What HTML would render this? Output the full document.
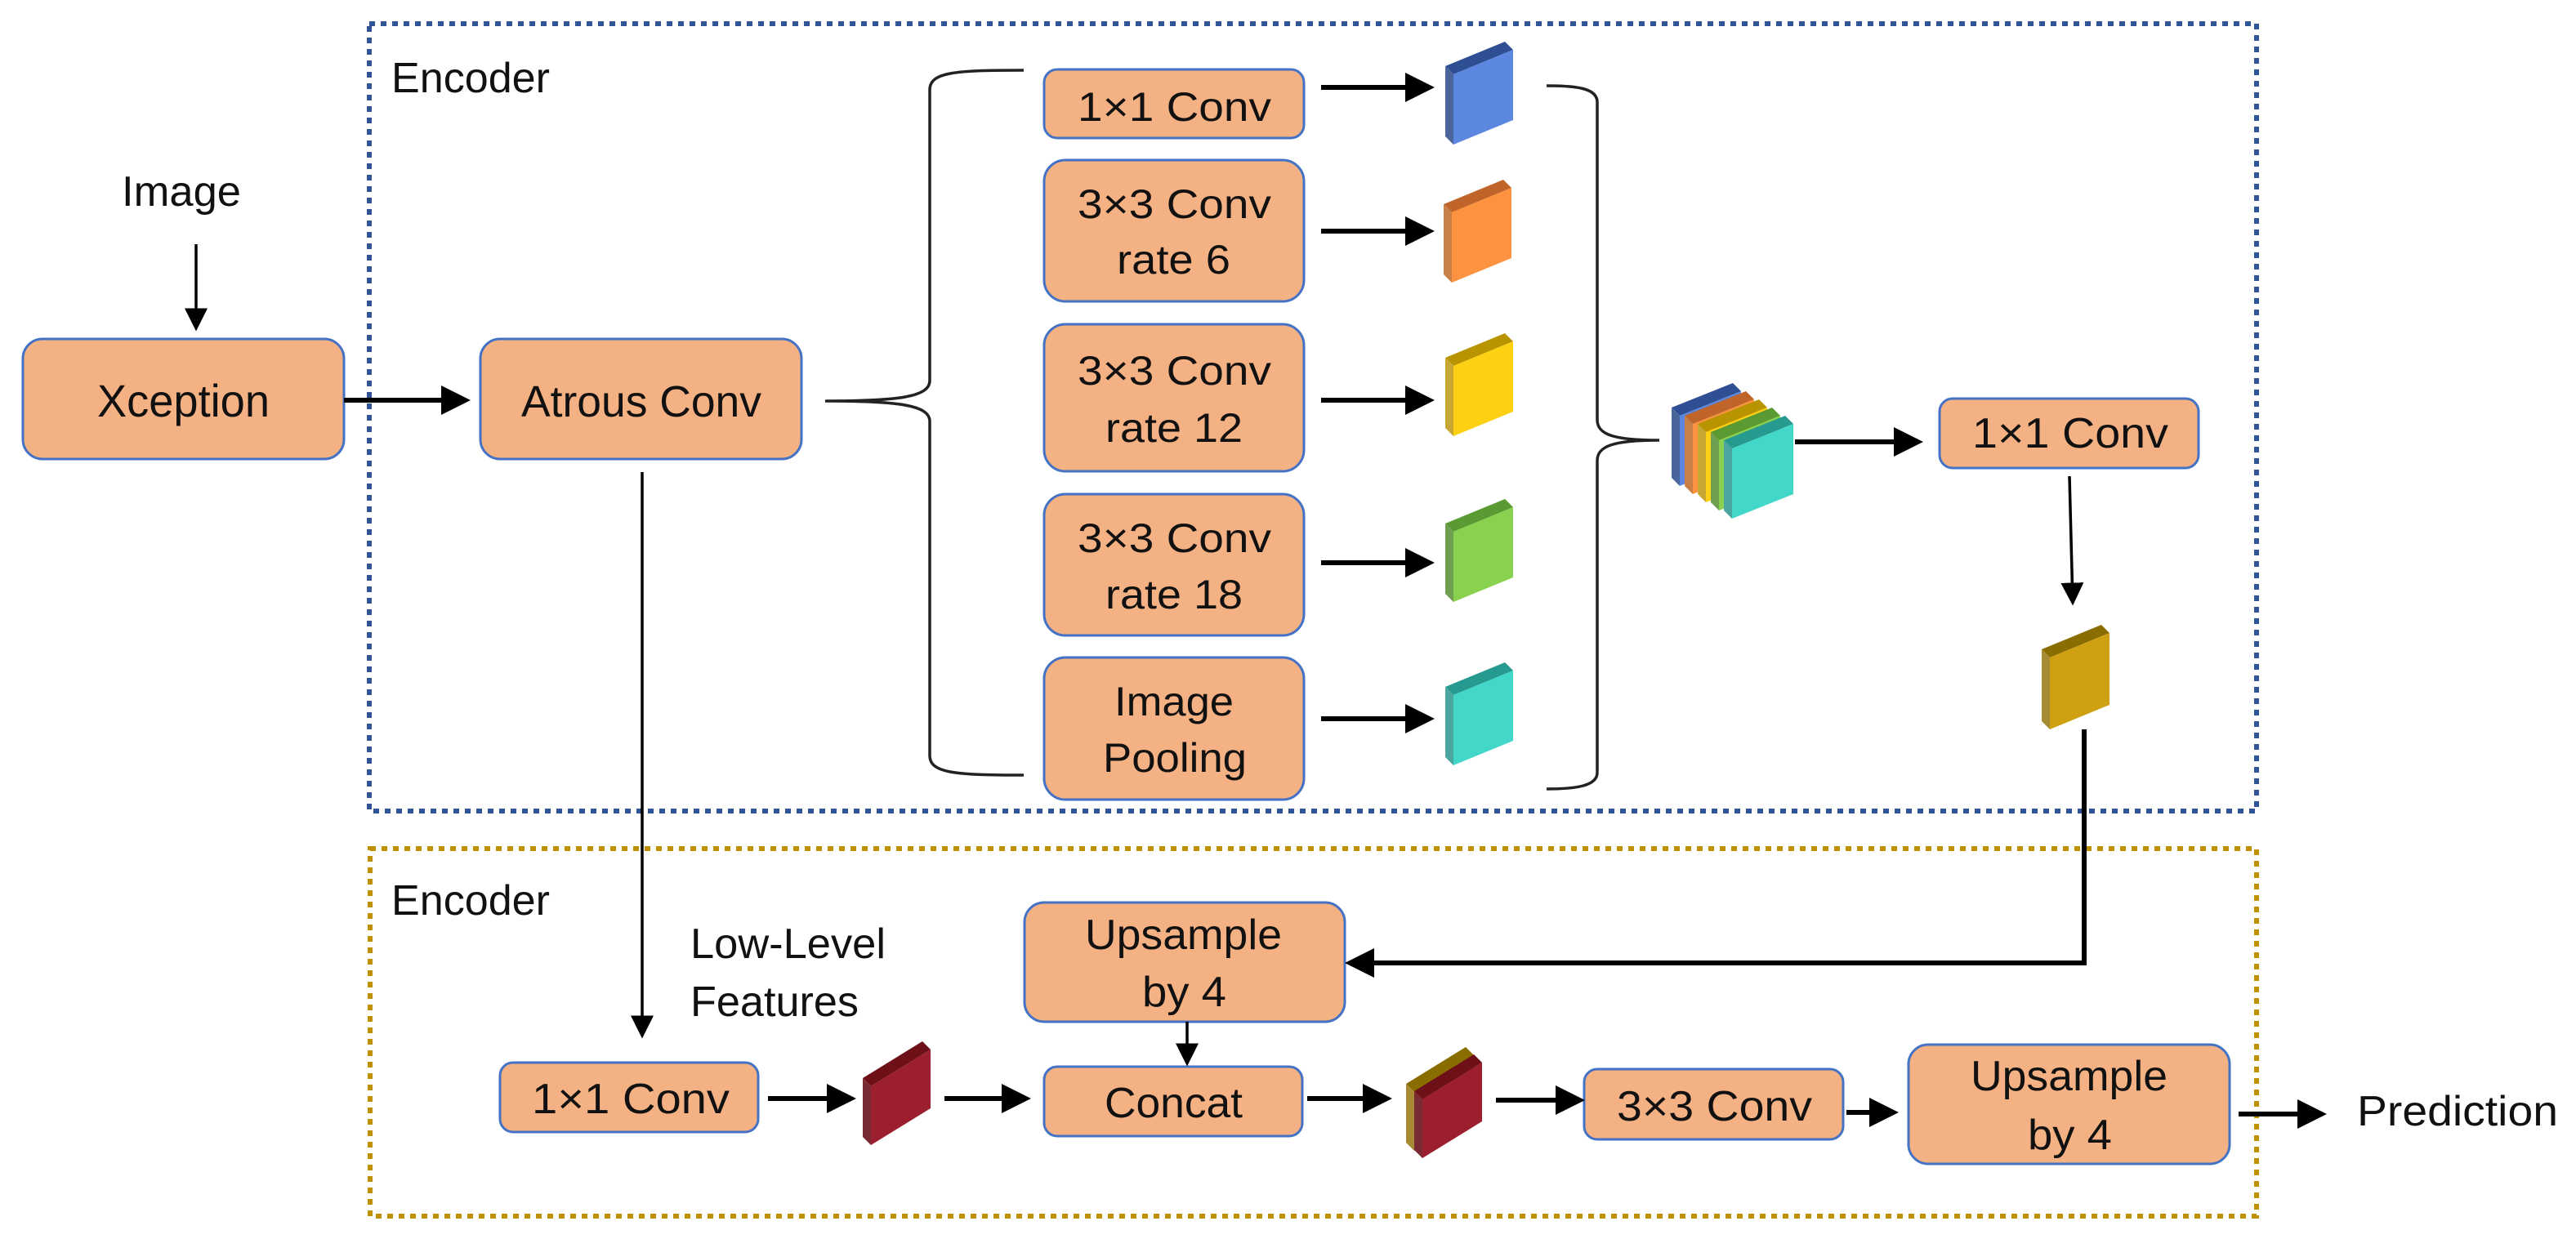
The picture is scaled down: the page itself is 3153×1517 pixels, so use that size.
<!DOCTYPE html>
<html><head><meta charset="utf-8"><style>
html,body{margin:0;padding:0;background:#fff;}
svg{display:block;}
text{font-family:"Liberation Sans",sans-serif;fill:#111;}
</style></head><body>
<svg width="3153" height="1517" viewBox="0 0 3153 1517" xmlns="http://www.w3.org/2000/svg">
<defs>
<marker id="ah" markerWidth="6" markerHeight="6" refX="5" refY="3" orient="auto" markerUnits="strokeWidth"><path d="M0,0 L6,3 L0,6 z" fill="#000"/></marker>
<marker id="ahs" markerWidth="8" markerHeight="8" refX="7" refY="4" orient="auto" markerUnits="strokeWidth"><path d="M0,0 L8,4 L0,8 z" fill="#000"/></marker>
</defs>
<rect width="3153" height="1517" fill="#fff"/>
<!-- dotted containers -->
<rect x="452" y="29" width="2310" height="964" fill="none" stroke="#2f5597" stroke-width="6" stroke-dasharray="7 7"/>
<rect x="453" y="1039" width="2309" height="450" fill="none" stroke="#bf9000" stroke-width="6" stroke-dasharray="7 7"/>
<text x="479" y="113" font-size="52" textLength="194" lengthAdjust="spacingAndGlyphs">Encoder</text>
<text x="479" y="1120" font-size="52" textLength="194" lengthAdjust="spacingAndGlyphs">Encoder</text>
<!-- Image -->
<text x="149" y="252" font-size="52" textLength="146" lengthAdjust="spacingAndGlyphs">Image</text>
<line x1="240" y1="299" x2="240" y2="402" stroke="#000" stroke-width="3.5" marker-end="url(#ahs)"/>
<!-- boxes -->
<g fill="#f4b183" stroke="#4472c4" stroke-width="3">
<rect x="28" y="415" width="393" height="147" rx="24"/>
<rect x="588" y="415" width="393" height="147" rx="24"/>
<rect x="1278" y="85" width="318" height="84" rx="16"/>
<rect x="1278" y="196" width="318" height="173" rx="26"/>
<rect x="1278" y="397" width="318" height="180" rx="26"/>
<rect x="1278" y="605" width="318" height="173" rx="26"/>
<rect x="1278" y="805" width="318" height="174" rx="26"/>
<rect x="2374" y="488" width="317" height="85" rx="16"/>
<rect x="1254" y="1105" width="392" height="146" rx="24"/>
<rect x="612" y="1301" width="316" height="85" rx="16"/>
<rect x="1278" y="1306" width="316" height="85" rx="16"/>
<rect x="1939" y="1309" width="317" height="86" rx="16"/>
<rect x="2336" y="1279" width="393" height="146" rx="24"/>
</g>
<text x="119" y="510" font-size="56" textLength="211" lengthAdjust="spacingAndGlyphs">Xception</text>
<text x="638" y="510" font-size="54" textLength="294" lengthAdjust="spacingAndGlyphs">Atrous Conv</text>
<g font-size="50">
<text x="1319" y="148" textLength="237" lengthAdjust="spacingAndGlyphs">1×1 Conv</text>
<text x="1319" y="267" textLength="237" lengthAdjust="spacingAndGlyphs">3×3 Conv</text>
<text x="1367" y="335" textLength="139" lengthAdjust="spacingAndGlyphs">rate 6</text>
<text x="1319" y="471" textLength="237" lengthAdjust="spacingAndGlyphs">3×3 Conv</text>
<text x="1353" y="541" textLength="168" lengthAdjust="spacingAndGlyphs">rate 12</text>
<text x="1319" y="676" textLength="237" lengthAdjust="spacingAndGlyphs">3×3 Conv</text>
<text x="1353" y="745" textLength="168" lengthAdjust="spacingAndGlyphs">rate 18</text>
<text x="1364" y="876" textLength="146" lengthAdjust="spacingAndGlyphs">Image</text>
<text x="1350" y="945" textLength="176" lengthAdjust="spacingAndGlyphs">Pooling</text>
</g>
<g font-size="52">
<text x="2414" y="548" textLength="240" lengthAdjust="spacingAndGlyphs">1×1 Conv</text>
<text x="1328" y="1162" textLength="241" lengthAdjust="spacingAndGlyphs">Upsample</text>
<text x="1398" y="1232" textLength="103" lengthAdjust="spacingAndGlyphs">by 4</text>
<text x="651" y="1363" textLength="242" lengthAdjust="spacingAndGlyphs">1×1 Conv</text>
<text x="1352" y="1368" textLength="169" lengthAdjust="spacingAndGlyphs">Concat</text>
<text x="1979" y="1372" textLength="239" lengthAdjust="spacingAndGlyphs">3×3 Conv</text>
<text x="2412" y="1335" textLength="241" lengthAdjust="spacingAndGlyphs">Upsample</text>
<text x="2482" y="1407" textLength="103" lengthAdjust="spacingAndGlyphs">by 4</text>
<text x="845" y="1173" textLength="239" lengthAdjust="spacingAndGlyphs">Low-Level</text>
<text x="845" y="1244" textLength="206" lengthAdjust="spacingAndGlyphs">Features</text>
<text x="2885" y="1378" textLength="246" lengthAdjust="spacingAndGlyphs">Prediction</text>
</g>
<!-- braces -->
<path d="M1253,86 C1170,86 1138,88 1138,110 L1138,466 C1138,486 1100,491 1010,491 C1100,491 1138,496 1138,516 L1138,925 C1138,947 1170,949 1253,949" fill="none" stroke="#222" stroke-width="3.5"/>
<path d="M1893,105 C1930,105 1955,108 1955,125 L1955,514 C1955,532 1975,539 2031,539 C1975,539 1955,546 1955,564 L1955,946 C1955,962 1930,966 1893,966" fill="none" stroke="#222" stroke-width="3.5"/>
<!-- thick arrows -->
<g stroke="#000" stroke-width="6" fill="none" marker-end="url(#ah)">
<line x1="421" y1="490" x2="570" y2="490"/>
<line x1="1617" y1="107" x2="1750" y2="107"/>
<line x1="1617" y1="283" x2="1750" y2="283"/>
<line x1="1617" y1="490" x2="1750" y2="490"/>
<line x1="1617" y1="689" x2="1750" y2="689"/>
<line x1="1617" y1="880" x2="1750" y2="880"/>
<line x1="2197" y1="541" x2="2348" y2="541"/>
<line x1="940" y1="1345" x2="1042" y2="1345"/>
<line x1="1156" y1="1345" x2="1256" y2="1345"/>
<line x1="1600" y1="1345" x2="1698" y2="1345"/>
<line x1="1831" y1="1347" x2="1934" y2="1347"/>
<line x1="2260" y1="1362" x2="2318" y2="1362"/>
<line x1="2740" y1="1364" x2="2842" y2="1364"/>
<path d="M2551,893 L2551,1179 L1652,1179"/>
</g>
<g stroke="#000" stroke-width="3.5" fill="none" marker-end="url(#ahs)">
<line x1="786" y1="578" x2="786" y2="1268"/>
<line x1="2533" y1="583" x2="2537" y2="738"/>
<line x1="1453" y1="1251" x2="1453" y2="1302"/>
</g>
<!-- cubes -->
<g transform="translate(1769,51)"><polygon points="0,30 73,0 83,10 10,40" fill="#2e4f94"/><polygon points="0,30 10,40 10,126 0,116" fill="#4a6599"/><polygon points="10,40 83,10 83,96 10,126" fill="#5b87e0"/></g>
<g transform="translate(1767,220)"><polygon points="0,30 73,0 83,10 10,40" fill="#c0652a"/><polygon points="0,30 10,40 10,126 0,116" fill="#c98048"/><polygon points="10,40 83,10 83,96 10,126" fill="#fd9340"/></g>
<g transform="translate(1769,408)"><polygon points="0,30 73,0 83,10 10,40" fill="#b89400"/><polygon points="0,30 10,40 10,126 0,116" fill="#c8a835"/><polygon points="10,40 83,10 83,96 10,126" fill="#fdd013"/></g>
<g transform="translate(1769,611)"><polygon points="0,30 73,0 83,10 10,40" fill="#5a9a32"/><polygon points="0,30 10,40 10,126 0,116" fill="#6fa052"/><polygon points="10,40 83,10 83,96 10,126" fill="#88d24f"/></g>
<g transform="translate(1769,811)"><polygon points="0,30 73,0 83,10 10,40" fill="#279a90"/><polygon points="0,30 10,40 10,126 0,116" fill="#4aa69e"/><polygon points="10,40 83,10 83,96 10,126" fill="#42d7c9"/></g>
<g transform="translate(2499,765)"><polygon points="0,30 73,0 83,10 10,40" fill="#8a6d00"/><polygon points="0,30 10,40 10,128 0,118" fill="#a68a34"/><polygon points="10,40 83,10 83,98 10,128" fill="#cfa112"/></g>
<!-- stack -->
<g transform="translate(2046,469)"><polygon points="0,30 75,0 85,10 10,40" fill="#2e4f94"/><polygon points="0,30 10,40 10,126 0,116" fill="#4a6599"/><polygon points="10,40 85,10 85,96 10,126" fill="#5b87e0"/></g>
<g transform="translate(2062,479)"><polygon points="0,30 75,0 85,10 10,40" fill="#c0652a"/><polygon points="0,30 10,40 10,126 0,116" fill="#c98048"/><polygon points="10,40 85,10 85,96 10,126" fill="#fd9340"/></g>
<g transform="translate(2078,489)"><polygon points="0,30 75,0 85,10 10,40" fill="#b89400"/><polygon points="0,30 10,40 10,126 0,116" fill="#c8a835"/><polygon points="10,40 85,10 85,96 10,126" fill="#fdd013"/></g>
<g transform="translate(2094,499)"><polygon points="0,30 75,0 85,10 10,40" fill="#5a9a32"/><polygon points="0,30 10,40 10,126 0,116" fill="#6fa052"/><polygon points="10,40 85,10 85,96 10,126" fill="#88d24f"/></g>
<g transform="translate(2110,509)"><polygon points="0,30 75,0 85,10 10,40" fill="#279a90"/><polygon points="0,30 10,40 10,126 0,116" fill="#4aa69e"/><polygon points="10,40 85,10 85,96 10,126" fill="#42d7c9"/></g>
<!-- red cubes -->
<g transform="translate(1056,1275)"><polygon points="0,45 73,0 83,10 10,55" fill="#6e1018"/><polygon points="0,45 10,55 10,127 0,117" fill="#7a2a32"/><polygon points="10,55 83,10 83,82 10,127" fill="#9b1f2e"/></g>
<g transform="translate(1721,1282)"><polygon points="0,45 73,0 83,10 10,55" fill="#8a6d00"/><polygon points="0,45 10,55 10,127 0,117" fill="#a68a34"/><polygon points="10,55 83,10 83,82 10,127" fill="#cfa112"/></g>
<g transform="translate(1731,1291)"><polygon points="0,45 73,0 83,10 10,55" fill="#6e1018"/><polygon points="0,45 10,55 10,127 0,117" fill="#7a2a32"/><polygon points="10,55 83,10 83,82 10,127" fill="#9b1f2e"/></g>
</svg>
</body></html>
